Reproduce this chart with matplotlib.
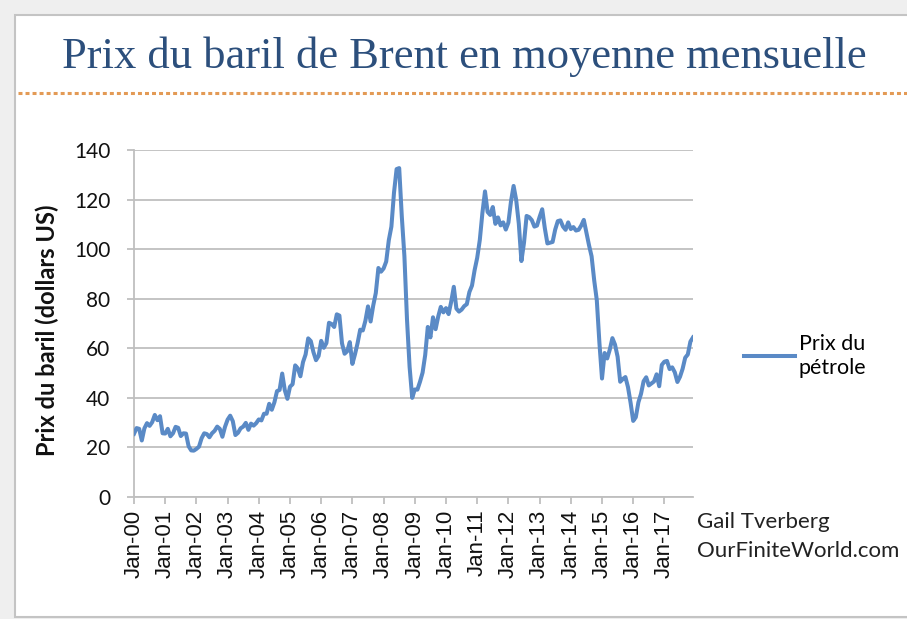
import numpy as np
import matplotlib

matplotlib.use("Agg")
import matplotlib.pyplot as plt
from matplotlib.patches import Rectangle
from matplotlib.lines import Line2D

# ----------------------------------------------------------------------
# Données : prix moyen mensuel du Brent (US$/baril), janv. 2000 - déc. 2017
# ----------------------------------------------------------------------
brent_2000 = [25.5, 27.8, 27.5, 22.8, 27.7, 29.8, 28.7, 30.2, 33.1, 31.0, 32.6, 25.7]
brent_2001 = [25.6, 27.5, 24.5, 25.7, 28.3, 27.9, 24.6, 25.7, 25.6, 20.5, 18.8, 18.7]
brent_2002 = [19.4, 20.3, 23.7, 25.7, 25.4, 24.1, 25.7, 26.7, 28.4, 27.5, 24.3, 28.3]
brent_2003 = [31.2, 32.8, 30.6, 25.0, 25.9, 27.7, 28.4, 29.9, 27.1, 29.6, 28.8, 29.8]
brent_2004 = [31.3, 30.9, 33.6, 33.6, 37.6, 35.2, 38.2, 42.7, 43.2, 49.8, 43.1, 39.6]
brent_2005 = [44.5, 45.5, 53.1, 51.9, 48.7, 54.4, 57.5, 64.0, 62.9, 58.5, 55.2, 56.9]
brent_2006 = [63.0, 60.2, 62.1, 70.3, 69.8, 68.6, 73.7, 73.2, 62.0, 57.8, 58.8, 62.5]
brent_2007 = [53.7, 57.6, 62.1, 67.5, 67.2, 71.1, 76.9, 70.8, 77.2, 82.3, 92.4, 90.9]
brent_2008 = [92.2, 95.0, 103.6, 109.1, 122.8, 132.3, 132.7, 113.2, 97.2, 71.6, 52.5, 40.0]
brent_2009 = [43.4, 43.3, 46.5, 50.2, 57.3, 68.6, 64.4, 72.5, 67.7, 72.8, 76.7, 74.5]
brent_2010 = [76.2, 73.8, 78.8, 84.8, 76.0, 74.8, 75.6, 77.0, 77.8, 82.7, 85.3, 91.5]
brent_2011 = [96.5, 103.7, 114.6, 123.3, 115.0, 113.8, 117.0, 110.2, 112.8, 109.6, 110.8, 107.9]
brent_2012 = [110.7, 119.3, 125.5, 119.8, 110.3, 95.2, 102.6, 113.4, 112.9, 111.7, 109.1, 109.5]
brent_2013 = [113.0, 116.1, 108.5, 102.3, 102.6, 102.9, 107.9, 111.3, 111.6, 109.1, 107.8, 110.8]
brent_2014 = [108.1, 108.9, 107.5, 107.8, 109.5, 111.8, 106.8, 101.6, 97.1, 87.4, 79.4, 62.3]
brent_2015 = [47.8, 58.1, 55.9, 59.5, 64.1, 61.5, 56.6, 46.5, 47.6, 48.4, 44.3, 38.0]
brent_2016 = [30.7, 32.2, 38.2, 41.6, 46.7, 48.3, 45.0, 45.8, 46.6, 49.5, 44.7, 53.3]
brent_2017 = [54.6, 54.9, 51.6, 52.3, 50.3, 46.4, 48.5, 51.7, 56.2, 57.5, 62.7, 64.4]

etiquettes_x = ["Jan-00", "Jan-01", "Jan-02", "Jan-03", "Jan-04", "Jan-05",
                "Jan-06", "Jan-07", "Jan-08", "Jan-09", "Jan-10", "Jan-11",
                "Jan-12", "Jan-13", "Jan-14", "Jan-15", "Jan-16", "Jan-17"]
graduations_y = [0, 20, 40, 60, 80, 100, 120, 140]

prix = np.concatenate([brent_2000, brent_2001, brent_2002, brent_2003, brent_2004,
                       brent_2005, brent_2006, brent_2007, brent_2008, brent_2009,
                       brent_2010, brent_2011, brent_2012, brent_2013, brent_2014,
                       brent_2015, brent_2016, brent_2017])
mois = np.arange(len(prix))

BLEU = "#5A8AC6"
GRIS = "#BFBFBF"
plt.rcParams["font.family"] = ["Lato", "DejaVu Sans"]

# ----------------------------------------------------------------------
# Figure et cadre
# ----------------------------------------------------------------------
fig = plt.figure(figsize=(9.07, 6.19), dpi=100, facecolor="#EFEFEF")
fig.patches.append(Rectangle((15 / 907, 2 / 619), 1.0, 602 / 619,
                             transform=fig.transFigure, facecolor="white",
                             edgecolor="#C4C4C4", lw=1.5, zorder=-10))

fig.text(0.512, 1 - 68 / 619, "Prix du baril de Brent en moyenne mensuelle",
         ha="center", va="baseline", fontsize=32, color="#2C4F7C",
         family=["Liberation Serif", "DejaVu Serif"])
fig.lines.append(Line2D([18 / 907, 1.0], [1 - 93 / 619, 1 - 93 / 619],
                        transform=fig.transFigure, color="#E39A55", lw=2.2,
                        linestyle=(0, (1.3, 1.0))))

# ----------------------------------------------------------------------
# Courbe
# ----------------------------------------------------------------------
ax = fig.add_axes([134 / 907, 1 - 497 / 619, (693 - 134) / 907, (497 - 150) / 619])
ax.patch.set_alpha(0)
ax.plot(mois, prix, color=BLEU, lw=2.9, label="Prix du\npétrole", zorder=3,
        solid_joinstyle="round")

ax.set_xlim(0, len(prix) - 1)
ax.set_ylim(0, 140)
ax.set_yticks(graduations_y)
ax.set_xticks(np.arange(len(etiquettes_x)) * 12)
ax.set_xticklabels(etiquettes_x, rotation=90, family=["Liberation Sans", "DejaVu Sans"])
ax.grid(axis="y", color=GRIS, lw=1.3)
ax.set_axisbelow(True)
for cote in ["top", "right"]:
    ax.spines[cote].set_visible(False)
for cote in ["left", "bottom"]:
    ax.spines[cote].set_color(GRIS)
    ax.spines[cote].set_linewidth(1.3)
ax.tick_params(axis="both", colors=GRIS, width=1.3, length=5)
ax.tick_params(axis="y", labelcolor="#111111", labelsize=15, pad=12)
ax.tick_params(axis="x", labelcolor="#111111", labelsize=16, pad=4)

fig.text(47 / 907, 1 - 330 / 619, "Prix du baril (dollars US)", rotation=90,
         ha="center", va="center", fontsize=17, fontweight="bold", color="#111111")

ax.legend(loc="center left", bbox_to_anchor=(733 / 907, 1 - 356 / 619),
          bbox_transform=fig.transFigure, frameon=False, fontsize=15.5,
          handlelength=2.4, handletextpad=0.15, borderpad=0)

fig.text(697 / 907, 1 - 522 / 619, "Gail Tverberg", ha="left", va="center",
         fontsize=16, color="#222222")
fig.text(697 / 907, 1 - 551 / 619, "OurFiniteWorld.com", ha="left", va="center",
         fontsize=16, color="#222222")

plt.savefig("out.png", dpi=100, facecolor=fig.get_facecolor())
